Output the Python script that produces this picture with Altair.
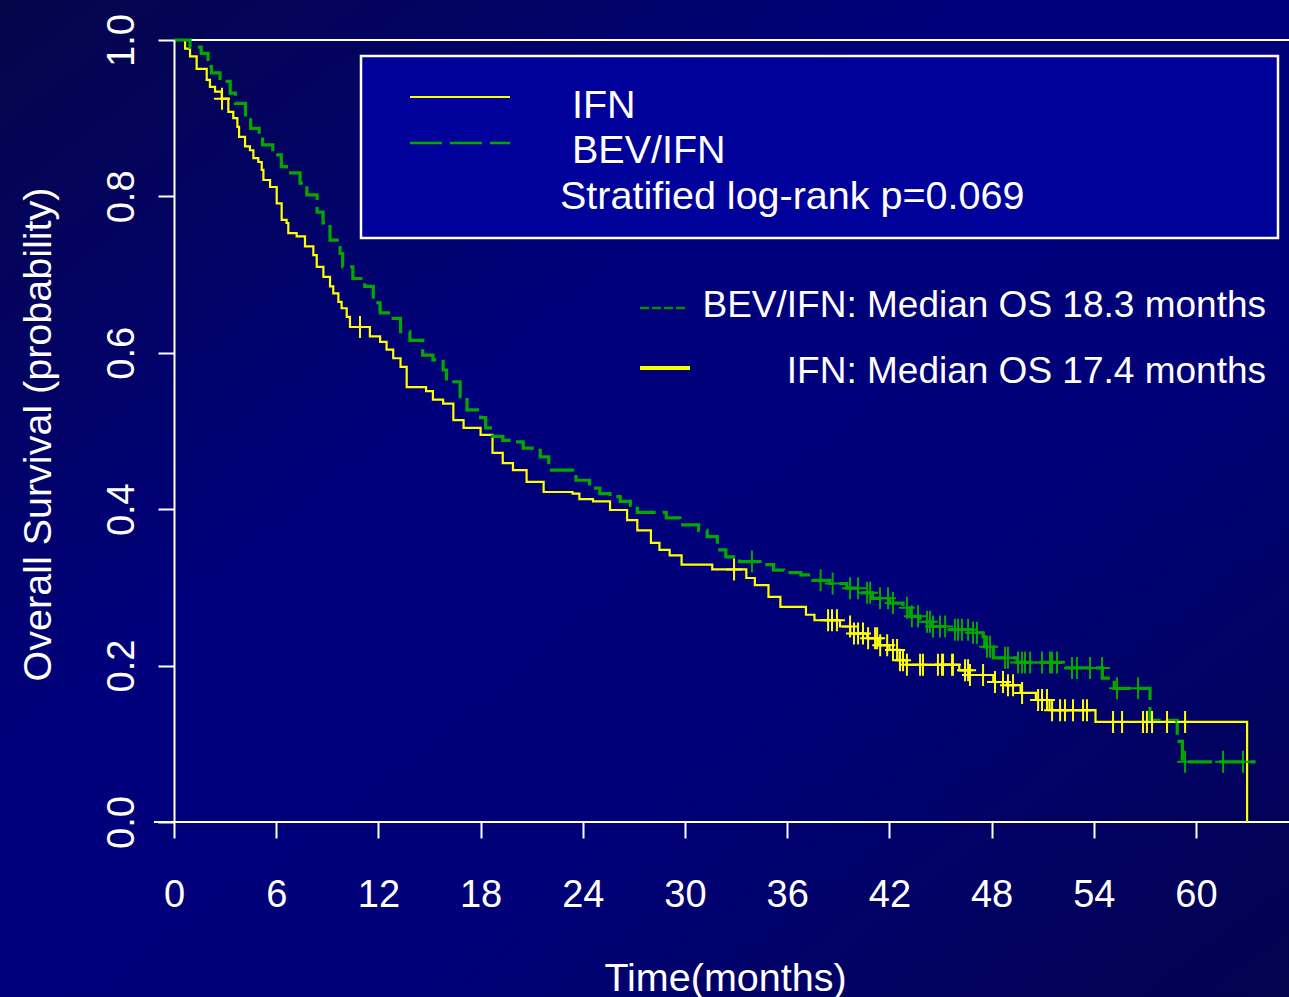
import bisect
import altair as alt
import pandas as pd

# ---------------- data ----------------
# IFN (yellow, solid) Kaplan-Meier steps: time (months), survival
ifn_t = [0, 0.65, 0.94, 1.33, 1.92, 2.11, 2.41, 2.8, 3.19, 3.48, 3.72, 3.82, 4.17, 4.46,
         4.66, 4.95, 5.15, 5.25, 5.64, 6.03, 6.32, 6.61, 6.71, 7.2, 7.69, 8.18, 8.38, 8.77,
         9.16, 9.35, 9.65, 9.84, 10.14, 10.33, 11.5, 12.1, 12.48, 12.87, 13.3, 13.66, 14.8,
         15.2, 15.8, 16.4, 17.0, 18.0, 18.7, 19.3, 19.9, 20.7, 21.7, 23.4, 23.8, 24.6, 25.6,
         26.6, 27.2, 28.0, 28.5, 29.1, 29.8, 31.6, 33.6, 34.1, 34.9, 35.6, 37.1, 37.6, 39.1,
         39.7, 40.7, 41.4, 42.0, 42.6, 43.0, 46.1, 46.7, 48.1, 48.9, 49.7, 50.6, 51.4, 54.1,
         63.0]
ifn_s = [1.0, 0.989, 0.979, 0.963, 0.949, 0.940, 0.934, 0.925, 0.908, 0.900, 0.889, 0.876,
         0.864, 0.859, 0.849, 0.844, 0.834, 0.821, 0.812, 0.791, 0.770, 0.766, 0.753, 0.749,
         0.736, 0.725, 0.710, 0.697, 0.685, 0.676, 0.665, 0.657, 0.646, 0.633, 0.621, 0.614,
         0.604, 0.593, 0.582, 0.556, 0.551, 0.540, 0.535, 0.514, 0.504, 0.495, 0.472, 0.459,
         0.450, 0.435, 0.422, 0.420, 0.413, 0.410, 0.399, 0.386, 0.373, 0.357, 0.348, 0.341,
         0.329, 0.323, 0.312, 0.303, 0.288, 0.275, 0.265, 0.258, 0.250, 0.241, 0.235, 0.226,
         0.220, 0.207, 0.201, 0.194, 0.188, 0.179, 0.175, 0.165, 0.156, 0.143, 0.128, 0.0]

# BEV/IFN (green, dashed) Kaplan-Meier steps
bev_t = [0, 0.94, 1.6, 2.0, 2.2, 2.7, 3.3, 3.6, 4.2, 4.5, 5.0, 5.2, 5.8, 6.3, 6.6, 7.4, 7.8,
         8.4, 8.75, 9.16, 9.75, 9.9, 10.5, 11.2, 11.7, 12.1, 12.7, 13.3, 13.85, 14.6, 15.2,
         15.8, 16.0, 16.8, 17.2, 18.0, 18.3, 18.7, 19.3, 19.9, 20.5, 21.5, 22.0, 23.4, 23.6,
         24.4, 25.0, 25.6, 26.2, 26.8, 27.2, 28.9, 29.7, 30.8, 31.3, 31.9, 32.4, 33.2, 34.4,
         35.2, 35.8, 36.8, 37.5, 38.5, 39.5, 40.3, 41.0, 42.0, 42.8, 43.2, 43.8, 44.4, 45.4,
         46.9, 47.5, 47.6, 48.1, 49.5, 52.2, 54.5, 55.2, 57.3, 58.9, 59.2, 63.5]
bev_s = [1.0, 0.991, 0.983, 0.966, 0.958, 0.947, 0.932, 0.919, 0.900, 0.887, 0.876, 0.866,
         0.853, 0.838, 0.830, 0.817, 0.802, 0.780, 0.766, 0.744, 0.727, 0.710, 0.695, 0.685,
         0.664, 0.651, 0.644, 0.627, 0.616, 0.597, 0.591, 0.578, 0.563, 0.544, 0.527, 0.517,
         0.504, 0.493, 0.488, 0.486, 0.478, 0.467, 0.450, 0.446, 0.437, 0.427, 0.420, 0.416,
         0.410, 0.405, 0.396, 0.389, 0.380, 0.373, 0.365, 0.348, 0.339, 0.333, 0.329, 0.322,
         0.319, 0.316, 0.309, 0.305, 0.299, 0.293, 0.286, 0.280, 0.274, 0.263, 0.256, 0.250,
         0.246, 0.242, 0.237, 0.224, 0.210, 0.204, 0.197, 0.184, 0.171, 0.130, 0.103, 0.077,
         0.077]

# censoring times (months)
ifn_cens = [2.82, 10.92, 32.88, 38.40, 38.63, 38.92, 39.69, 39.92, 40.16, 40.45, 40.75,
            41.16, 41.28, 41.46, 41.87, 42.21, 42.45, 42.62, 42.80, 43.03, 43.80, 43.97,
            44.85, 45.09, 45.15, 45.68, 45.73, 46.44, 46.62, 46.73, 47.50, 48.20, 48.67,
            48.96, 49.26, 49.79, 50.73, 50.96, 51.25, 51.55, 52.02, 52.31, 52.78, 53.37,
            53.60, 55.13, 55.66, 56.89, 57.12, 57.42, 58.30, 59.36]
bev_cens = [33.93, 37.96, 38.67, 39.69, 40.16, 40.69, 40.87, 41.45, 41.92, 42.21, 43.03,
            43.32, 43.68, 44.21, 44.38, 44.56, 44.97, 45.27, 45.85, 46.03, 46.26, 46.62,
            46.91, 47.14, 47.73, 47.91, 48.79, 48.96, 49.55, 49.79, 49.96, 50.26, 50.96,
            51.43, 51.55, 51.84, 52.72, 53.01, 53.78, 54.48, 55.36, 56.60, 59.36, 61.59,
            62.76]

x_ticks = [0, 6, 12, 18, 24, 30, 36, 42, 48, 54, 60]
y_ticks = [0.0, 0.2, 0.4, 0.6, 0.8, 1.0]

legend_labels = ["IFN", "BEV/IFN", "Stratified log-rank p=0.069"]
median_labels = ["BEV/IFN: Median OS 18.3 months", "IFN: Median OS 17.4 months"]
x_title = "Time(months)"
y_title = "Overall Survival (probability)"

# ---------------- styling / layout ----------------
W, H = 1115, 782
XMAX = 65.46
FONT = "Liberation Sans, Arial, sans-serif"
YELLOW = "#ffff00"
GREEN = "#00a800"
WHITE = "#ffffff"
CROSS = "M-0.8,0H0.8M0,-1.1V1.1"


def step_at(ts, ss, t):
    i = bisect.bisect_right(ts, t) - 1
    return ss[max(i, 0)]


ifn_df = pd.DataFrame({"t": ifn_t, "s": ifn_s})
bev_df = pd.DataFrame({"t": bev_t, "s": bev_s})
ifn_c = pd.DataFrame({"t": ifn_cens, "s": [step_at(ifn_t, ifn_s, t) for t in ifn_cens]})
bev_c = pd.DataFrame({"t": bev_cens, "s": [step_at(bev_t, bev_s, t) for t in bev_cens]})

xenc = alt.X(
    "t:Q",
    scale=alt.Scale(domain=[0, XMAX], nice=False, zero=False),
    axis=alt.Axis(
        values=x_ticks, format="d", domain=False, grid=False,
        tickSize=16, tickWidth=2, tickColor=WHITE,
        labelFontSize=38, labelFont=FONT, labelColor=WHITE, labelPadding=38,
        labelBaseline="top", labelFlush=False, labelOverlap=False,
        title=x_title, titleFont=FONT, titleFontSize=39.5, titleFontWeight="normal",
        titleColor=WHITE, titleX=551, titleY=168, titleBaseline="alphabetic",
        titleAlign="center", zindex=1,
    ),
)
yenc = alt.Y(
    "s:Q",
    scale=alt.Scale(domain=[0, 1], nice=False, zero=False),
    axis=alt.Axis(
        values=y_ticks, format=".1f", domain=True, domainColor=WHITE, domainWidth=2,
        grid=False, tickSize=16, tickWidth=2, tickColor=WHITE,
        labelFontSize=38, labelFont=FONT, labelColor=WHITE, labelAngle=270,
        labelAlign="center", labelBaseline="alphabetic", labelPadding=25,
        labelFlush=False, labelOverlap=False,
        title=y_title, titleFont=FONT, titleFontSize=39.5, titleFontWeight="normal",
        titleColor=WHITE, titleAngle=270, titleX=-124, titleY=394,
        titleAlign="center", titleBaseline="alphabetic", zindex=1,
    ),
)

one = pd.DataFrame({"k": [0]})

background = alt.Chart(one).mark_rect(
    fill=alt.LinearGradient(
        gradient="linear", x1=0, y1=0, x2=1, y2=1,
        stops=[
            alt.GradientStop(color="#05054a", offset=0.0),
            alt.GradientStop(color="#00007c", offset=0.38),
            alt.GradientStop(color="#000078", offset=0.65),
            alt.GradientStop(color="#03034e", offset=1.0),
        ],
    ),
    stroke=None,
).encode(x=alt.value(-174), x2=alt.value(W + 10), y=alt.value(-40), y2=alt.value(H + 180))

top_line = alt.Chart(one).mark_rule(color=WHITE, strokeWidth=2).encode(
    x=alt.value(0), x2=alt.value(W), y=alt.value(0))
bottom_line = alt.Chart(one).mark_rule(color=WHITE, strokeWidth=2).encode(
    x=alt.value(-20), x2=alt.value(W), y=alt.value(H))

ifn_line = alt.Chart(ifn_df).mark_line(
    interpolate="step-after", color=YELLOW, strokeWidth=2.2
).encode(x=xenc, y=yenc)
bev_line = alt.Chart(bev_df).mark_line(
    interpolate="step-after", color=GREEN, strokeWidth=3.2, strokeDash=[24, 7]
).encode(x=xenc, y=yenc)

ifn_marks = alt.Chart(ifn_c).mark_point(
    shape=CROSS, filled=False, size=400, stroke=YELLOW, strokeWidth=2, opacity=1
).encode(x=xenc, y=yenc)
bev_marks = alt.Chart(bev_c).mark_point(
    shape=CROSS, filled=False, size=400, stroke=GREEN, strokeWidth=2, opacity=1
).encode(x=xenc, y=yenc)

legend_box = alt.Chart(one).mark_rect(
    fill="#00009a", stroke=WHITE, strokeWidth=2.5
).encode(x=alt.value(187), x2=alt.value(1104), y=alt.value(16), y2=alt.value(198))

leg_ifn = alt.Chart(one).mark_rule(color=YELLOW, strokeWidth=2).encode(
    x=alt.value(236), x2=alt.value(336), y=alt.value(57))
leg_bev = alt.Chart(one).mark_rule(color=GREEN, strokeWidth=2.5, strokeDash=[32, 8]).encode(
    x=alt.value(236), x2=alt.value(336), y=alt.value(103))
med_bev = alt.Chart(one).mark_rule(color="#009000", strokeWidth=2.5, strokeDash=[9, 3]).encode(
    x=alt.value(466), x2=alt.value(514), y=alt.value(268))
med_ifn = alt.Chart(one).mark_rule(color=YELLOW, strokeWidth=4).encode(
    x=alt.value(466), x2=alt.value(516), y=alt.value(328))


def label(text, x, y, align="left", size=39.5):
    return alt.Chart(pd.DataFrame({"label": [text]})).mark_text(
        align=align, baseline="alphabetic", font=FONT, fontSize=size, color=WHITE
    ).encode(x=alt.value(x), y=alt.value(y), text="label:N")


texts = [
    label(legend_labels[0], 398, 78),
    label(legend_labels[1], 398, 123),
    label(legend_labels[2], 386, 169),
    label(median_labels[0], 1092, 277, align="right", size=37),
    label(median_labels[1], 1092, 343, align="right", size=37),
]

chart = alt.layer(
    background, top_line, bottom_line, legend_box, leg_ifn, leg_bev, med_bev, med_ifn,
    ifn_line, bev_line, ifn_marks, bev_marks, *texts
).properties(
    width=W, height=H, autosize="none",
    padding={"left": 174, "top": 40, "right": 0, "bottom": 175},
    background="#000060",
).configure_view(stroke=None)

chart.save("out.html", embed_options={"renderer": "svg", "actions": False})
